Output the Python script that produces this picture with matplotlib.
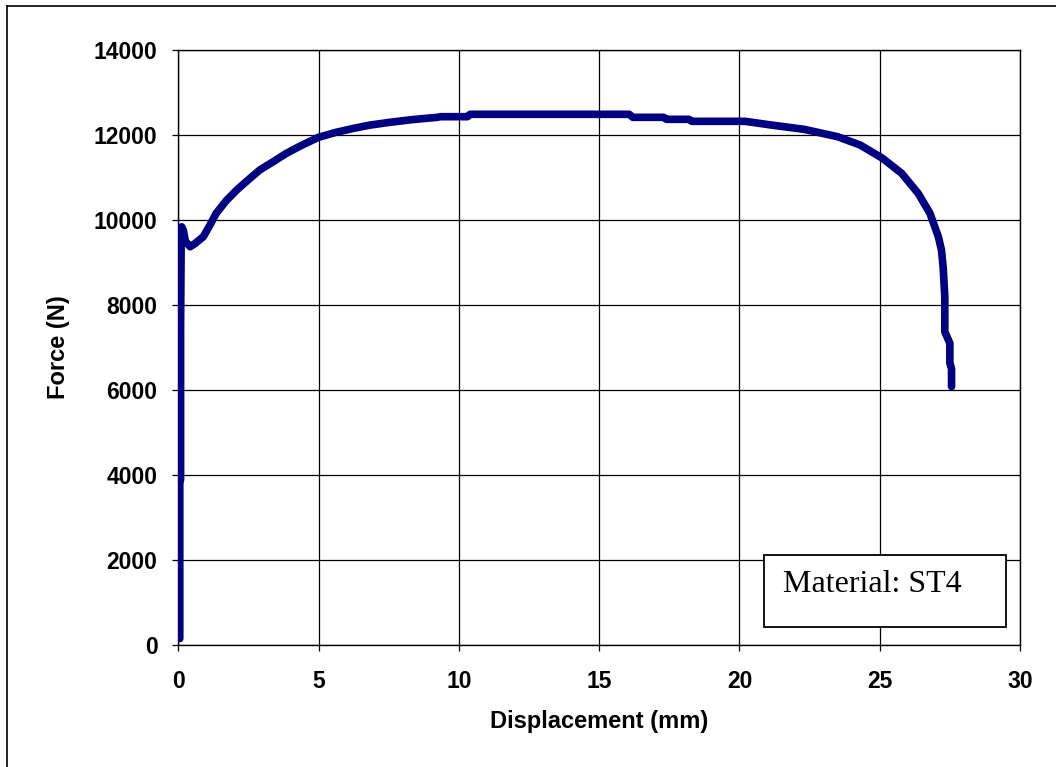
import matplotlib.pyplot as plt
from matplotlib.lines import Line2D
from matplotlib.patches import Rectangle

# tensile test, ST4 specimen
disp = [0.05, 0.05, 0.08, 0.08, 0.10, 0.12, 0.18, 0.25, 0.42, 0.60, 0.89, 1.10, 1.35,
        1.70, 2.08, 2.50, 2.90, 3.40, 3.85, 4.40, 5.00, 5.60, 6.25, 6.80, 7.44,
        8.30, 9.23, 9.35, 10.30, 10.40, 16.07, 16.20, 17.30, 17.40, 18.20, 18.30,
        20.20, 21.13, 22.30, 23.50, 24.30, 25.10, 25.78, 26.37, 26.79, 27.09,
        27.20, 27.26, 27.32, 27.32, 27.50, 27.50, 27.56, 27.56]
force = [150, 3800, 3900, 7500, 9500, 9840, 9750, 9500, 9370, 9450, 9607, 9850, 10158,
         10450, 10706, 10950, 11176, 11380, 11569, 11760, 11946, 12060, 12157, 12230, 12290,
         12360, 12416, 12431, 12431, 12487, 12487, 12416, 12416, 12369, 12369, 12322,
         12322, 12235, 12134, 11960, 11765, 11452, 11099, 10628, 10158, 9607,
         9294, 8901, 8196, 7370, 7100, 6635, 6500, 6080]

xticks = [0, 5, 10, 15, 20, 25, 30]
yticks = [0, 2000, 4000, 6000, 8000, 10000, 12000, 14000]

plt.rcParams['font.family'] = 'Liberation Sans'

fig = plt.figure(figsize=(10.56, 7.67), dpi=100)
ax = fig.add_axes([0.1689, 0.1591, 0.7970, 0.7757])

ax.plot(disp, force, color='#000080', lw=5.5, solid_capstyle='round',
        solid_joinstyle='round', zorder=4)

ax.set_xlim(0, 30)
ax.set_ylim(0, 14000)
ax.set_xticks(xticks)
ax.set_yticks(yticks)
ax.grid(True, color='black', lw=0.9)
ax.set_axisbelow(True)
for s in ax.spines.values():
    s.set_color('black')
    s.set_linewidth(1.0)
ax.tick_params(axis='both', direction='out', length=4, width=0.9, labelsize=16.5)
ax.tick_params(axis='x', pad=14)
ax.tick_params(axis='y', pad=11)
for lab in ax.get_xticklabels() + ax.get_yticklabels():
    lab.set_fontweight('bold')

ax.set_xlabel('Displacement (mm)', fontsize=17, fontweight='bold', labelpad=12)
ax.set_ylabel('Force (N)', fontsize=17, fontweight='bold', labelpad=17)

# material note box
box = Rectangle((20.87, 416), 8.62, 1702, facecolor='white', edgecolor='black',
                lw=1.3, zorder=5)
ax.add_patch(box)
ax.text(21.55, 1430, 'Material: ST4', fontsize=23, family='Liberation Serif',
        va='center', ha='left', zorder=6)

# frame edges on the left and top
fx, fy = 7 / 1056, 1 - 6 / 767
fig.add_artist(Line2D([fx, fx], [0, fy], transform=fig.transFigure, color='black', lw=1.2))
fig.add_artist(Line2D([fx, 1], [fy, fy], transform=fig.transFigure, color='black', lw=1.2))

fig.savefig('out.png', dpi=100)
